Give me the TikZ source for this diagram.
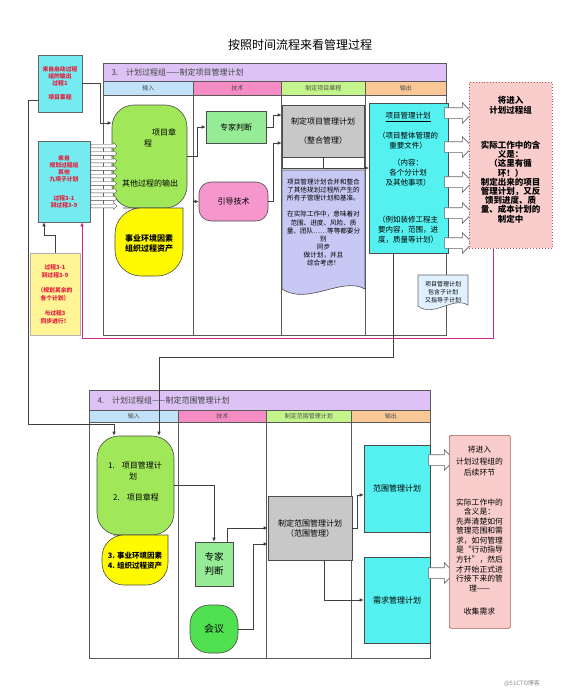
\documentclass[tikz,border=0pt]{standalone}
\usepackage{fontspec}
\setmainfont{Noto Sans CJK SC}
\newfontfamily\slantfont[AutoFakeSlant=0.2]{Noto Sans CJK SC}
\usetikzlibrary{calc,shapes.arrows,arrows.meta}

\definecolor{hPurple}{RGB}{221,194,245}
\definecolor{hBlue}{RGB}{194,226,250}
\definecolor{hPink}{RGB}{245,140,195}
\definecolor{hGreen}{RGB}{196,245,140}
\definecolor{hOrange}{RGB}{250,200,150}
\definecolor{inGreen}{RGB}{160,232,90}
\definecolor{inYellow}{RGB}{255,250,0}
\definecolor{tGreen}{RGB}{150,235,150}
\definecolor{tPink}{RGB}{245,150,205}
\definecolor{grayBox}{RGB}{200,200,200}
\definecolor{docLav}{RGB}{200,200,245}
\definecolor{docBlue}{RGB}{225,240,255}
\definecolor{cyanB}{RGB}{85,240,240}
\definecolor{pinkN}{RGB}{250,205,205}
\definecolor{noteLine}{RGB}{170,90,90}
\definecolor{magL}{RGB}{205,40,140}
\definecolor{lCyan}{RGB}{115,235,240}
\definecolor{lRed}{RGB}{230,30,60}
\definecolor{lYellow}{RGB}{255,245,150}
\definecolor{meetGreen}{RGB}{80,225,80}
\definecolor{frameC}{RGB}{90,90,90}

\begin{document}
\begin{tikzpicture}[x=1pt,y=-1pt,
		font=\fontsize{8}{9.6}\selectfont,
		frame/.style={draw=frameC, line width=0.8pt},
		arr/.style={draw=black!75, line width=0.6pt, -{Latex[length=4pt,width=3.5pt]}},
		box/.style={draw=black!70, line width=0.6pt, inner sep=1pt, align=center},
		hdr/.style={draw=frameC, line width=0.5pt, font=\slantfont\fontsize{6}{7}\selectfont, text=black!70, inner sep=0pt},
		lbox/.style={draw=black!60, fill=lCyan, line width=0.6pt, align=center, text=lRed, font=\bfseries\fontsize{5.8}{7}\selectfont},
		blk/.style={single arrow, draw=black!60, fill=white, line width=0.6pt, inner sep=5pt, single arrow head extend=5pt, minimum height=28pt},
		sblk/.style={single arrow, draw=black!70, fill=white, line width=0.4pt, inner sep=1.6pt, single arrow head extend=1.6pt, minimum height=26pt}]
	\useasboundingbox[fill=white] (0,0) rectangle (571,691);

	\node[font=\fontsize{12}{14}\selectfont] (title) at (300,45) {按照时间流程来看管理过程};

	% section 3
	\node[hdr, fill=hPurple, minimum width=343pt, minimum height=18pt, anchor=north west] (s3) at (103,63) {};
	\node[anchor=west, font=\slantfont\fontsize{8}{9}\selectfont, text=black!75] (s3t) at (108,72) {3.\hspace{8pt}计划过程组——制定项目管理计划};
	\node[hdr, fill=hBlue, minimum width=90pt, minimum height=14pt, anchor=north west] (h31) at (103,81) {输入};
	\node[hdr, fill=hPink, minimum width=88pt, minimum height=14pt, anchor=north west] (h32) at (193,81) {技术};
	\node[hdr, fill=hGreen, minimum width=84pt, minimum height=14pt, anchor=north west] (h33) at (281,81) {制定项目章程};
	\node[hdr, fill=hOrange, minimum width=81pt, minimum height=14pt, anchor=north west] (h34) at (365,81) {输出};
	\draw[frame] (103,95) rectangle (446,335);
	\draw[frame] (193,95) -- (193,335);
	\draw[frame] (281,95) -- (281,335);
	\draw[frame] (365,95) -- (365,335);

	% left boxes
	\node[lbox, minimum width=44pt, minimum height=57pt] (b1) at (60,83.5) {来自启动过程\\组的输出\\过程1\\[7pt]项目章程};
	\node[lbox, minimum width=52pt, minimum height=81pt] (b2) at (64,181.5) {来自\\规划过程组\\其他\\九项子计划\\[12pt]过程3-1\\到过程3-9};
	\node[lbox, draw=black!30, fill=lYellow, minimum width=50pt, minimum height=82pt, font=\bfseries\fontsize{5.8}{8}\selectfont] (yl) at (55,294) {过程3-1\\到过程3-9\\[7pt]（规划其余的\\各个计划）\\[7pt]与过程3\\同步进行！};

	% inputs
	\node[draw=black!70, line width=0.6pt, fill=inGreen, rounded corners=22pt, minimum width=75pt, minimum height=103pt] (in1) at (149.5,156.5) {};
	\node (in1a) at (164,132) {项目章};
	\node (in1b) at (148,144) {程};
	\node (in1c) at (150,183) {其他过程的输出};
	\draw[draw=black!70, line width=0.6pt, fill=inYellow] (149,208) -- (183,208) -- (183,240) [rounded corners=26pt] -- (183,276) -- (115,276) -- (115,208) -- cycle;
	\node[align=center, font=\bfseries\fontsize{8}{10}\selectfont] (ye1) at (149,243) {事业环境因素\\组织过程资产};

	\foreach \i in {0,...,8}
		\node[sblk] (sa\i) at (103,{146+7.5*\i}) {};

	% tools
	\node[box, fill=tGreen, minimum width=60pt, minimum height=32pt] (ej1) at (236,127) {专家判断};
	\node[box, fill=tPink, rounded corners=12pt, minimum width=69pt, minimum height=39pt] (gt1) at (233.5,201.5) {引导技术};
	\coordinate (c1) at (193,201.5);

	% process
	\draw[draw=black!70, line width=0.6pt, fill=white] (282,105) rectangle (364,168);
	\node[box, fill=grayBox, minimum width=82pt, minimum height=52pt] (pm1) at (323,131) {制定项目管理计划\\[9pt]（整合管理）};
	\draw[draw=black!70, line width=0.6pt, fill=docLav] (282,170) -- (365,170) -- (365,289) .. controls (342,276) and (308,306) .. (282,289) -- cycle;
	\node[align=center, font=\fontsize{6.6}{8.1}\selectfont] (doc1) at (323.5,222.5) {项目管理计划合并和整合\\了其他规划过程所产生的\\所有子管理计划和基准。\\[8.1pt]在实际工作中，意味着对\\范围、进度、风险、质\\量、团队……等等都要分\\别\\同步\\做计划，并且\\综合考虑！};

	% outputs
	\node[box, fill=cyanB, minimum width=79pt, minimum height=150pt, anchor=north west] (out1) at (369,103) {};
	\node[font=\fontsize{7.5}{10}\selectfont] (out1a) at (408,117) {\underline{项目管理计划}};
	\node[align=center, font=\fontsize{7.5}{10}\selectfont] (out1b) at (408,141) {（项目整体管理的\\重要文件）};
	\node[align=center, font=\fontsize{7.5}{10}\selectfont] (out1c) at (408,173) {（内容：\\各个分计划\\及其他事项）};
	\node[align=center, font=\fontsize{7.5}{10}\selectfont] (out1d) at (408,230) {（例如装修工程主\\要内容，范围，进\\度，质量等计划）};
	\foreach \y [count=\i] in {113,147,182,213,243}
		\node[blk] (ba\i) at (456,\y) {};
	\draw[draw=black!60, line width=0.6pt, fill=docBlue] (418,275) -- (468,275) -- (468,305) .. controls (452,296) and (434,318) .. (418,306) -- cycle;
	\node[align=center, font=\fontsize{6}{8}\selectfont] (doc2) at (443,292) {项目管理计划\\包含子计划\\又指导子计划};

	\node[draw=noteLine, dotted, line width=0.9pt, fill=pinkN, minimum width=83pt, minimum height=166pt, anchor=north west] (nt1) at (469,82) {};
	\node[align=center, font=\bfseries\fontsize{8.5}{10}\selectfont] (nt1a) at (510.5,105) {将进入\\计划过程组};
	\node[align=center, font=\bfseries\fontsize{8.5}{9.2}\selectfont] (nt1b) at (510.5,182) {实际工作中的含\\义是：\\（这里有循\\环！）\\制定出来的项目\\管理计划，又反\\馈到进度、质\\量、成本计划的\\制定中};

	% section 4
	\node[hdr, fill=hPurple, minimum width=341pt, minimum height=20pt, anchor=north west] (s4) at (89,390) {};
	\node[anchor=west, font=\slantfont\fontsize{8}{9}\selectfont, text=black!75] (s4t) at (94,400) {4.\hspace{8pt}计划过程组——制定范围管理计划};
	\node[hdr, fill=hBlue, minimum width=89pt, minimum height=12pt, anchor=north west] (h41) at (89,410) {输入};
	\node[hdr, fill=hPink, minimum width=88pt, minimum height=12pt, anchor=north west] (h42) at (178,410) {技术};
	\node[hdr, fill=hGreen, minimum width=85pt, minimum height=12pt, anchor=north west] (h43) at (266,410) {制定范围管理计划};
	\node[hdr, fill=hOrange, minimum width=79pt, minimum height=12pt, anchor=north west] (h44) at (351,410) {输出};
	\draw[frame] (89,422) rectangle (430,658);
	\draw[frame] (178,422) -- (178,658);
	\draw[frame] (266,422) -- (266,658);
	\draw[frame] (351,422) -- (351,658);

	\node[draw=black!70, line width=0.6pt, fill=inGreen, rounded corners=22pt, minimum width=77pt, minimum height=99pt] (in2) at (135.5,485.5) {};
	\node (in2a) at (135,465) {1.\hspace{7pt}项目管理计};
	\node (in2b) at (133,476) {划};
	\node (in2c) at (136,497) {2.\hspace{7pt}项目章程};
	\draw[draw=black!70, line width=0.6pt, fill=inYellow] (135,535) -- (168,535) -- (168,555) [rounded corners=22pt] -- (168,585) -- (102,585) -- (102,535) -- cycle;
	\node[align=center, font=\bfseries\fontsize{7.5}{10}\selectfont] (ye2) at (135,561) {3. 事业环境因素\\4. 组织过程资产};

	\node[box, fill=tGreen, minimum width=38pt, minimum height=44pt, font=\fontsize{9.5}{14}\selectfont] (ej2) at (214,564) {专家\\判断};
	\node[box, fill=meetGreen, rounded corners=19pt, minimum width=48pt, minimum height=48pt, font=\fontsize{10}{12}\selectfont] (mt2) at (214,629) {会议};

	\node[box, fill=grayBox, minimum width=84pt, minimum height=64pt, font=\fontsize{8}{10}\selectfont] (pm2) at (310,528) {制定范围管理计划\\（范围管理）};

	\node[box, fill=cyanB, minimum width=66pt, minimum height=87pt] (sc2) at (397,488.5) {范围管理计划};
	\node[box, fill=cyanB, minimum width=66pt, minimum height=86pt] (rq2) at (397,600) {需求管理计划};
	\node[blk, minimum height=26pt] (bb1) at (439,460) {};
	\node[blk, minimum height=26pt] (bb2) at (439,573) {};

	\node[draw=noteLine, line width=0.7pt, fill=pinkN, rounded corners=2pt, minimum width=61pt, minimum height=193pt, anchor=north west] (nt2) at (449,435) {};
	\node[align=center, font=\fontsize{7.8}{11.5}\selectfont] (nt2a) at (479.5,461.5) {将进入\\计划过程组的\\后续环节};
	\node[align=center, font=\fontsize{7.8}{9.55}\selectfont] (nt2b) at (479.5,545) {实际工作中的\\含义是：\\先弄清楚如何\\管理范围和需\\求，如何管理\\是“行动指导\\方针”，然后\\才开始正式进\\行接下来的管\\理——};
	\node[font=\fontsize{7.8}{9.5}\selectfont] (nt2c) at (479.5,612) {收集需求};

	\node[text=black!45, font=\fontsize{6}{7}\selectfont] (wm) at (522,683) {@51CTO博客};

	% connectors
	\draw[arr] (b1.east) -- (100,83.5) |- (in1.west |- 0,123);
	\draw[arr] (yl.north) -- (55,235) -| (b2.south -| 44,0);
	\draw[arr, draw=magL] ($(nt1.south west)+(24,0)$) -- (493,338) -| (b2.south -| 82,0);
	\draw[arr] (b1.west |- 0,100) -- (28,100) -- (28,424) -| (in2.north -| 114,0);
	\draw[arr] (out1.south -| 393,0) -- (393,357) -| (in2.north -| 159,0);

	\draw[arr] (in1.east) -- (197,156.5) |- (ej1.west);
	\draw[arr] (c1) -- (gt1.west);
	\draw[arr] (ej1.east) -- (273,127) |- (pm1.west |- 0,115);
	\draw[arr] (gt1.east) -- (273,201.5) |- (pm1.west |- 0,143);
	\draw[arr] (pm1.south) |- (out1.west |- 0,168);

	\draw[arr] (in2.east) -| (ej2.north);
	\draw[arr] (ej2.north -| 227,0) |- (pm2.west);
	\draw[arr] (mt2.east) -- (253,629) |- (pm2.west |- 0,544);
	\draw[arr] (pm2.east) -- (357,528) |- (sc2.west |- 0,495);
	\draw[arr] (pm2.south -| 324,0) |- (rq2.west);
\end{tikzpicture}
\end{document}
